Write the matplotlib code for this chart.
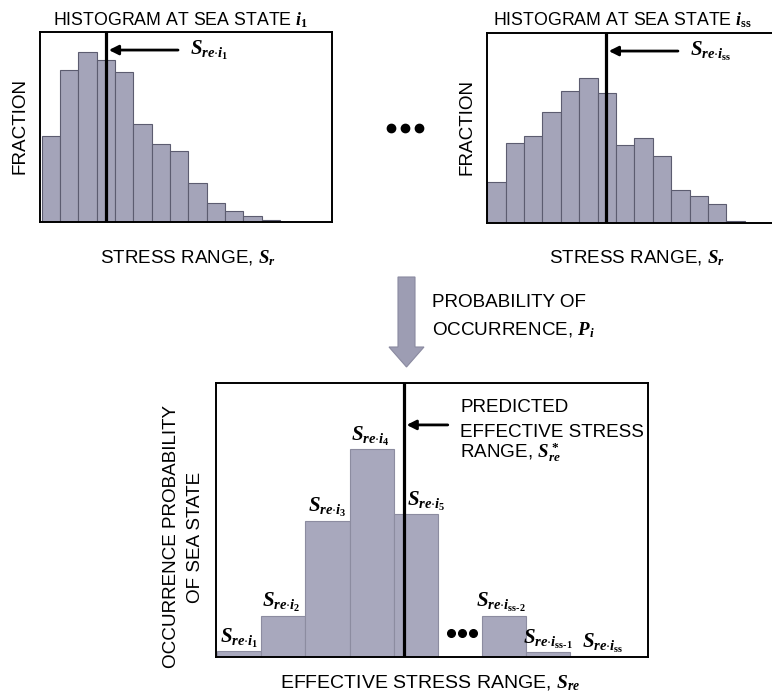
import matplotlib.pyplot as plt
from matplotlib.patches import Polygon
import numpy as np

plt.rcParams['font.family'] = ['Liberation Sans', 'DejaVu Sans']
plt.rcParams['mathtext.fontset'] = 'custom'
plt.rcParams['mathtext.it'] = 'Liberation Serif:italic:bold'
plt.rcParams['mathtext.rm'] = 'Liberation Serif:bold'
plt.rcParams['mathtext.bf'] = 'Liberation Serif:bold'

W, H = 772, 696

# stress range histograms, fraction of cycles per bin
frac_first = [0.0826, 0.1457, 0.1626, 0.1546, 0.1434, 0.0940, 0.0749,
              0.0682, 0.0373, 0.0182, 0.0108, 0.0054, 0.0022]
frac_last = [0.0394, 0.0775, 0.0839, 0.1073, 0.1272, 0.1400, 0.1249,
             0.0750, 0.0817, 0.0650, 0.0320, 0.0263, 0.0183, 0.0016]
# effective stress range of each histogram, in bin units
sre_first = 3.51
sre_last = 6.45

# occurrence probability of each sea state (slot 5 left out, shown as dots)
state_slot = [0, 1, 2, 3, 4, 6, 7, 8]
state_prob = [0.0097, 0.071, 0.235, 0.358, 0.246, 0.071, 0.008, 0.001]
state_sub = ['i_1', 'i_2', 'i_3', 'i_4', 'i_5',
             'i_{\\mathrm{ss\u20102}}', 'i_{\\mathrm{ss\u20101}}',
             'i_{\\mathrm{ss}}']
sre_star = 4.23

BAR = '#a4a4b9'
BAR_EDGE = '#5c5c70'
FS = 13.6
SFS = 15


def sre_label(sub):
    return r'$S_{re{\cdot}%s}$' % sub


def px_axes(fig, x0, y0, x1, y1):
    """Add axes from a pixel box (top-left origin)."""
    return fig.add_axes([x0 / W, 1 - y1 / H, (x1 - x0) / W, (y1 - y0) / H])


def style_box(ax):
    ax.set_xticks([])
    ax.set_yticks([])
    for s in ax.spines.values():
        s.set_linewidth(1.4)
        s.set_color('black')


def histogram(ax, fracs, sre, label, xlim, ytop, label_dx):
    ax.bar(np.arange(len(fracs)), fracs, width=1, align='edge',
           color=BAR, edgecolor=BAR_EDGE, linewidth=0.8)
    ax.axvline(sre, color='black', lw=2.3)
    ax.set_xlim(*xlim)
    ax.set_ylim(0, ytop)
    ax.annotate('', xy=(sre, 0.905), xycoords=('data', 'axes fraction'),
                xytext=(72, 0), textcoords='offset pixels',
                arrowprops=dict(arrowstyle='-|>', lw=2, color='black',
                                mutation_scale=14, shrinkA=0, shrinkB=2))
    ax.annotate(label, xy=(sre, 0.905), xycoords=('data', 'axes fraction'),
                xytext=(label_dx, 0), textcoords='offset pixels',
                va='center', ha='left', fontsize=SFS)
    style_box(ax)


fig = plt.figure(figsize=(W / 100, H / 100), dpi=100)

ax1 = px_axes(fig, 40, 32, 332, 222)
histogram(ax1, frac_first, sre_first, sre_label('i_1'),
          (-0.093, 15.84), 0.1817, 84)

ax2 = px_axes(fig, 487, 33, 787, 223)
histogram(ax2, frac_last, sre_last, sre_label(r'i_{\mathrm{ss}}'),
          (-0.016, 16.29), 0.1832, 84)

ax3 = px_axes(fig, 216, 383, 648, 657)
ax3.bar(state_slot, state_prob, width=1, align='edge',
        color='#a8a8bd', edgecolor='#8c8ca0', linewidth=0.8)
ax3.axvline(sre_star, color='black', lw=2.3)
ax3.set_xlim(-0.03, 9.77)
ax3.set_ylim(0, 0.472)
label_shift = [0, -0.06, 0, -0.02, 0.25, -0.06, 0.0, 0.25]
for slot, p, sub, dx in zip(state_slot, state_prob, state_sub, label_shift):
    ax3.annotate(sre_label(sub), xy=(slot + 0.5 + dx, p),
                 xytext=(0, 1), textcoords='offset points',
                 ha='center', va='bottom', fontsize=SFS)
ax3.annotate('', xy=(sre_star, 0.847), xycoords=('data', 'axes fraction'),
             xytext=(44, 0), textcoords='offset pixels',
             arrowprops=dict(arrowstyle='-|>', lw=2, color='black',
                             mutation_scale=14, shrinkA=0, shrinkB=2))
style_box(ax3)

# overlay in pixel coordinates for the free text and connectors
ov = fig.add_axes([0, 0, 1, 1])
ov.set_xlim(0, W)
ov.set_ylim(H, 0)
ov.axis('off')
ov.patch.set_alpha(0)

ov.text(53, 25, r'HISTOGRAM AT SEA STATE $i_1$', fontsize=12.8, va='baseline')
ov.text(493, 25, r'HISTOGRAM AT SEA STATE $i_{\mathrm{ss}}$', fontsize=12.8,
        va='baseline')
ov.text(20, 126, 'FRACTION', rotation=90, fontsize=FS, ha='center', va='center')
ov.text(467, 127, 'FRACTION', rotation=90, fontsize=FS, ha='center', va='center')
ov.text(188, 263, r'STRESS RANGE, $S_r$', fontsize=FS, ha='center', va='baseline')
ov.text(637, 263, r'STRESS RANGE, $S_r$', fontsize=FS, ha='center', va='baseline')
ov.plot([390.7, 405, 419.3], [128.3] * 3, 'o', ms=6, color='black')

ov.add_patch(Polygon([(398, 277), (415, 277), (415, 347), (424, 347),
                      (406.5, 367), (389, 347), (398, 347)],
                     closed=True, facecolor='#9d9db3', edgecolor='#8a8aa0',
                     lw=0.8))
ov.text(432, 307, 'PROBABILITY OF', fontsize=FS, va='baseline')
ov.text(432, 335, r'OCCURRENCE, $P_i$', fontsize=FS, va='baseline')

ov.text(460, 412, 'PREDICTED', fontsize=FS, va='baseline')
ov.text(460, 437, 'EFFECTIVE STRESS', fontsize=FS, va='baseline')
ov.text(460, 458, r'RANGE, $S^*_{re}$', fontsize=FS, va='baseline')
ov.plot([450.7, 462.3, 473.3], [633] * 3, 'o', ms=5.5, color='black')

ov.text(172, 537, 'OCCURRENCE PROBABILITY', rotation=90, fontsize=FS,
        ha='center', va='center')
ov.text(196, 537, 'OF SEA STATE', rotation=90, fontsize=FS,
        ha='center', va='center')
ov.text(280, 688, r'EFFECTIVE STRESS RANGE, $S_{re}$', fontsize=14,
        va='baseline')

fig.savefig('out.png', dpi=100)
